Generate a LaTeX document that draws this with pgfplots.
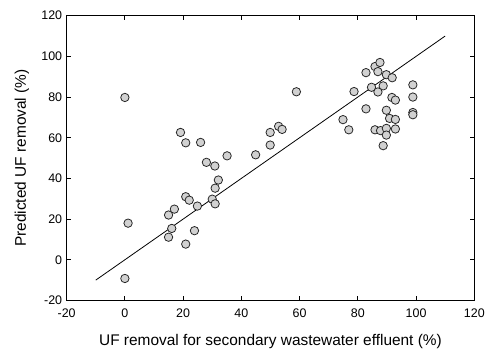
\documentclass[border=0pt]{standalone}
\usepackage{pgfplots}
\pgfplotsset{compat=1.18}
\usepackage{fontspec}
\setmainfont{Liberation Sans}
\begin{document}
\begin{tikzpicture}
\begin{axis}[
  at={(0,0)}, anchor=south west,
  scale only axis, width=408bp, height=285bp,
  xmin=-20, xmax=120, ymin=-20, ymax=120,
  xtick={-20,0,20,40,60,80,100,120},
  ytick={-20,0,20,40,60,80,100,120},
  tick align=inside, major tick length=4bp,
  tick style={black, line width=0.8pt},
  axis line style={black, line width=0.9pt},
  /pgf/number format/assume math mode=true,
  ticklabel style={font=\fontsize{12.5}{14}\selectfont},
  xticklabel style={yshift=-5bp},
  yticklabel style={xshift=-1bp},
  xlabel={UF removal for secondary wastewater effluent (\%)},
  ylabel={Predicted UF removal (\%)},
  label style={font=\fontsize{15.5}{17}\selectfont},
  xlabel style={at={(axis description cs:0.5,-0.144)}, anchor=center},
  ylabel style={at={(axis description cs:-0.1096,0.5)}, anchor=center},
  clip=false,
]
\addplot[black, line width=0.8pt, no marks] coordinates {(-10,-10) (110,110)};
\addplot[only marks, mark=*, mark size=4.2bp,
  mark options={fill=black!18, draw=black!85, line width=0.8pt}] coordinates {
(0,79.8) (1.1,18.0) (0,-9.2) (19.1,62.6) (20.9,57.5) (26.0,57.7) (28.0,47.9)
(30.9,46.1) (35.1,51.1) (32.1,39.2) (31.0,35.2) (20.9,31.0) (22.1,29.3)
(24.9,26.4) (30.0,29.8) (31.0,27.5) (15.0,22.0) (17.0,24.9) (16.1,15.4)
(15.0,11.1) (23.9,14.3) (20.9,7.7) (44.9,51.6) (49.9,56.4) (49.9,62.6)
(52.8,65.6) (54.0,64.1) (58.9,82.6)
(74.9,68.9) (76.9,63.9) (78.7,82.7) (82.8,92.0) (82.8,74.2) (84.7,84.8)
(85.9,95.0) (87.6,97.0) (86.9,92.5) (89.8,91.0) (91.8,89.5) (88.7,85.5)
(86.9,82.5) (98.9,86.0) (98.9,80.0) (91.7,79.8) (92.9,78.5) (89.8,73.5)
(90.9,69.5) (92.9,69.0) (98.9,72.4) (98.9,71.3) (85.9,63.9) (87.8,63.5)
(89.8,64.6) (89.8,61.3) (92.9,64.3) (88.7,56.1)
};
\end{axis}
\path (-66.7bp,-50.3bp) rectangle ++(488bp,351bp);
\end{tikzpicture}
\end{document}
